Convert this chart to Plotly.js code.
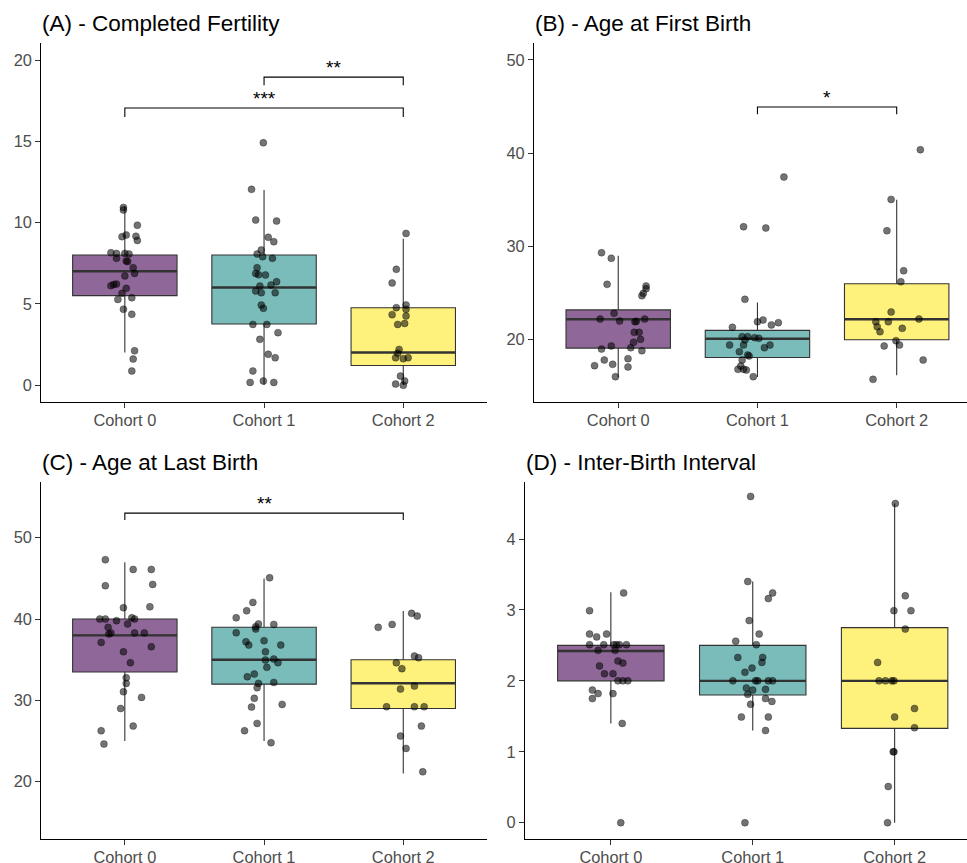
<!DOCTYPE html>
<html>
<head>
<meta charset="utf-8">
<script src="https://cdn.plot.ly/plotly-3.0.1.min.js"></script>
<style>html,body{margin:0;padding:0;background:#fff;}#chart{width:967px;height:863px;}</style>
</head>
<body>
<div id="chart"></div>
<script>
// ---------- DATA ----------
const cohorts = ['Cohort 0', 'Cohort 1', 'Cohort 2'];
const titles = ['(A) - Completed Fertility', '(B) - Age at First Birth', '(C) - Age at Last Birth', '(D) - Inter-Birth Interval'];

// Panel A - Completed Fertility
const fertQ1 = [5.5, 3.75, 1.2];
const fertMed = [7, 6, 2];
const fertQ3 = [8, 8, 4.75];
const fertLo = [2, 0, 0];
const fertHi = [11, 12, 9];
const fertY0 = [10.93, 10.77, 9.83, 9.13, 9.23, 9.15, 8.9, 8.14, 8.1, 8.1, 8.06, 7.8, 7.63, 7.6, 7.22, 6.87, 6.71, 6.11, 6.19, 6.21, 5.95, 5.64, 5.27, 5.37, 4.66, 4.35, 2.11, 1.6, 0.86];
const fertJ0 = [-0.01, -0.01, 0.09, -0.02, 0.01, 0.08, 0.09, -0.10, -0.06, 0.0, 0.03, -0.06, 0.01, 0.02, 0.06, 0.07, 0.0, -0.10, -0.08, -0.06, 0.01, -0.02, -0.05, 0.05, -0.01, 0.05, 0.07, 0.06, 0.05];
const fertY1 = [14.91, 12.04, 10.15, 10.09, 9.09, 8.82, 8.31, 8.06, 7.9, 7.8, 7.22, 6.87, 6.79, 6.77, 6.36, 6.15, 6.09, 5.78, 5.68, 5.68, 4.92, 4.72, 3.73, 3.73, 3.22, 2.81, 1.89, 1.68, 0.86, 0.16, 0.25, 0.16];
const fertJ1 = [-0.005, -0.09, -0.06, 0.09, 0.03, 0.07, -0.02, -0.05, -0.01, 0.06, -0.05, -0.06, -0.04, 0.01, 0.09, 0.05, -0.03, -0.06, -0.02, 0.08, -0.02, -0.005, -0.08, 0.02, 0.10, -0.03, 0.03, 0.08, -0.08, -0.10, -0.005, 0.07];
const fertY2 = [9.33, 7.12, 6.28, 4.92, 4.76, 4.66, 4.33, 4.25, 3.73, 3.79, 2.19, 1.95, 1.68, 1.62, 1.68, 0.55, 0.25, 0.06, -0.02];
const fertJ2 = [0.02, -0.05, -0.08, 0.02, -0.05, 0.02, -0.08, 0.02, -0.04, 0.01, -0.03, -0.04, -0.055, 0.0, 0.035, -0.02, 0.01, -0.055, 0.0];
const fertSig = [{from: 1, to: 2, y: 18.95, tip: 0.5, label: '**'}, {from: 0, to: 2, y: 17.05, tip: 0.55, label: '***'}];

// Panel B - Age at First Birth
const afbQ1 = [19.1, 18.1, 20];
const afbMed = [22.2, 20.1, 22.2];
const afbQ3 = [23.2, 21, 26];
const afbLo = [16, 16, 16.2];
const afbHi = [29, 24, 35];
const afbY0 = [29.33, 28.73, 25.94, 25.76, 25.47, 24.97, 24.72, 22.83, 22.22, 22.0, 21.93, 21.97, 22.22, 20.79, 20.79, 20.04, 19.72, 19.33, 19.0, 19.14, 18.82, 17.82, 17.97, 17.22, 17.36, 17.07, 16.03];
const afbJ0 = [-0.12, -0.05, -0.08, 0.20, 0.20, 0.18, 0.17, -0.03, -0.13, 0.01, 0.12, 0.13, 0.19, 0.115, 0.15, 0.16, 0.11, -0.05, -0.12, 0.09, 0.17, -0.10, 0.07, -0.17, -0.04, 0.07, -0.02];
const afbY1 = [37.45, 32.12, 31.98, 24.33, 22.11, 21.93, 21.83, 21.58, 21.33, 20.33, 20.33, 20.22, 20.15, 19.97, 19.43, 19.43, 19.43, 19.14, 18.72, 18.36, 18.25, 17.82, 17.18, 16.82, 16.82, 16.75, 16.04];
const afbJ1 = [0.19, -0.10, 0.06, -0.09, 0.04, 0.0, 0.15, 0.10, -0.18, -0.11, -0.07, -0.02, 0.01, -0.09, -0.20, -0.10, 0.09, 0.05, -0.13, -0.07, -0.06, -0.11, -0.12, -0.14, -0.10, -0.08, -0.03];
const afbY2 = [40.38, 35.05, 31.69, 27.4, 26.22, 22.97, 22.22, 21.93, 21.93, 21.4, 21.22, 20.86, 19.9, 19.33, 19.43, 17.82, 15.75];
const afbJ2 = [0.17, -0.04, -0.07, 0.05, 0.03, -0.04, 0.16, -0.15, -0.06, -0.14, 0.04, -0.12, -0.005, -0.09, 0.02, 0.19, -0.17];
const afbSig = [{from: 1, to: 2, y: 44.96, tip: 0.78, label: '*'}];

// Panel C - Age at Last Birth
const albQ1 = [33.5, 32, 29];
const albMed = [38, 35, 32.1];
const albQ3 = [40, 39, 35];
const albLo = [25, 25, 21];
const albHi = [47, 45, 41];
const albY0 = [47.3, 46.1, 46.1, 44.1, 44.26, 41.5, 41.4, 40.0, 40.0, 39.8, 40.16, 40.0, 38.98, 39.4, 38.3, 38.16, 38.3, 38.3, 37.13, 36.6, 35.98, 34.63, 32.79, 32.09, 31.07, 30.37, 29.0, 26.84, 26.27, 24.63];
const albJ0 = [-0.14, 0.06, 0.19, -0.14, 0.20, 0.18, -0.01, -0.18, -0.14, -0.06, 0.05, 0.07, -0.12, 0.02, -0.10, -0.115, 0.07, 0.14, -0.17, 0.19, -0.01, 0.04, 0.01, 0.01, -0.01, 0.12, -0.03, 0.06, -0.17, -0.15];
const albY1 = [45.08, 42.05, 41.02, 40.16, 39.39, 39.34, 39.06, 38.77, 38.32, 37.21, 37.34, 36.8, 36.8, 35.98, 34.96, 35.08, 34.63, 34.06, 33.24, 32.91, 32.21, 32.09, 31.56, 30.25, 29.51, 29.18, 27.17, 26.27, 24.8];
const albJ1 = [0.04, -0.08, -0.125, -0.20, -0.04, 0.07, -0.06, -0.06, -0.20, -0.13, 0.0, -0.11, 0.12, 0.01, 0.01, 0.07, 0.10, 0.02, -0.07, -0.12, 0.07, -0.04, -0.05, -0.07, 0.13, -0.09, -0.05, -0.14, 0.05];
const albY2 = [40.7, 40.37, 39.34, 38.98, 35.45, 35.25, 34.63, 33.9, 31.76, 31.39, 29.22, 29.22, 29.22, 26.84, 25.61, 24.1, 21.23];
const albJ2 = [0.06, 0.10, -0.08, -0.18, 0.08, 0.11, -0.05, -0.01, 0.08, -0.02, -0.12, 0.08, 0.15, 0.13, -0.02, 0.02, 0.14];
const albSig = [{from: 0, to: 2, y: 53.03, tip: 0.86, label: '**'}];

// Panel D - Inter-Birth Interval
const ibiQ1 = [2, 1.8, 1.33];
const ibiMed = [2.42, 2.0, 2.0];
const ibiQ3 = [2.5, 2.5, 2.75];
const ibiLo = [1.4, 1.3, 0];
const ibiHi = [3.25, 3.4, 4.5];
const ibiY0 = [3.24, 2.99, 2.66, 2.62, 2.66, 2.51, 2.51, 2.51, 2.51, 2.51, 2.51, 2.43, 2.43, 2.28, 2.25, 2.21, 2.1, 2.1, 2.0, 2.0, 2.0, 1.87, 1.82, 1.75, 1.82, 1.4, 0];
const ibiJ0 = [0.09, -0.15, -0.15, -0.10, -0.03, -0.15, -0.05, 0.02, 0.04, 0.06, 0.11, -0.09, 0.03, 0.05, 0.085, -0.08, -0.045, 0.015, 0.05, 0.085, 0.12, -0.13, -0.09, -0.13, 0.015, 0.08, 0.07];
const ibiY1 = [4.6, 3.4, 3.24, 3.16, 2.85, 2.66, 2.56, 2.51, 2.33, 2.33, 2.26, 2.18, 2.12, 2.0, 2.0, 2.0, 2.0, 2.0, 1.9, 1.88, 1.87, 1.81, 1.75, 1.71, 1.67, 1.49, 1.49, 1.3, 0];
const ibiJ1 = [-0.015, -0.035, 0.14, 0.11, -0.025, 0.045, -0.12, 0.025, -0.105, 0.07, 0.065, -0.005, -0.055, -0.14, 0.02, 0.035, 0.11, 0.14, -0.045, 0.09, 0.0, -0.035, 0.09, 0.135, -0.015, -0.08, 0.11, 0.09, -0.055];
const ibiY2 = [4.5, 3.2, 2.99, 2.99, 2.73, 2.26, 2.0, 2.0, 2.0, 2.0, 1.61, 1.49, 1.34, 1.0, 1.0, 0.51, 0];
const ibiJ2 = [0.005, 0.075, -0.005, 0.115, 0.075, -0.12, -0.11, -0.065, -0.02, -0.005, 0.14, 0.0, 0.14, -0.005, -0.01, -0.045, -0.05];
const ibiSig = [];

// ---------- STYLE ----------
const fills = ['rgba(68,1,84,0.6)', 'rgba(33,144,140,0.6)', 'rgba(253,231,37,0.6)'];
const FONT = 'Liberation Sans, Arial, sans-serif';

const panels = [
  {q1: fertQ1, med: fertMed, q3: fertQ3, lo: fertLo, hi: fertHi, ys: [fertY0, fertY1, fertY2], js: [fertJ0, fertJ1, fertJ2], sig: fertSig,
   xdom: [41.3, 486.8], ydom: [43.3, 402], xr: [-0.6, 2.6], yr: [-1.046, 21.03], tv: [0, 5, 10, 15, 20]},
  {q1: afbQ1, med: afbMed, q3: afbQ3, lo: afbLo, hi: afbHi, ys: [afbY0, afbY1, afbY2], js: [afbJ0, afbJ1, afbJ2], sig: afbSig,
   xdom: [534, 967], ydom: [43.3, 402], xr: [-0.605, 2.505], yr: [13.32, 51.79], tv: [20, 30, 40, 50]},
  {q1: albQ1, med: albMed, q3: albQ3, lo: albLo, hi: albHi, ys: [albY0, albY1, albY2], js: [albJ0, albJ1, albJ2], sig: albSig,
   xdom: [41.3, 486.8], ydom: [481.7, 839.3], xr: [-0.6, 2.6], yr: [12.92, 56.89], tv: [20, 30, 40, 50]},
  {q1: ibiQ1, med: ibiMed, q3: ibiQ3, lo: ibiLo, hi: ibiHi, ys: [ibiY0, ibiY1, ibiY2], js: [ibiJ0, ibiJ1, ibiJ2], sig: ibiSig,
   xdom: [525, 967], ydom: [481.7, 839.3], xr: [-0.605, 2.51], yr: [-0.234, 4.808], tv: [0, 1, 2, 3, 4]}
];

const W = 967, H = 863;
const traces = [];
const annotations = [];
const layout = {
  width: W, height: H,
  margin: {l: 0, r: 0, t: 0, b: 0},
  paper_bgcolor: '#ffffff', plot_bgcolor: 'rgba(0,0,0,0)',
  showlegend: false,
  font: {family: FONT, color: '#4D4D4D'},
  annotations: annotations
};

panels.forEach((p, k) => {
  const n = k === 0 ? '' : String(k + 1);
  const xa = 'x' + n, ya = 'y' + n;
  const axStyle = {
    showgrid: false, zeroline: false, showline: true, linecolor: '#000', linewidth: 1.1,
    ticks: 'outside', ticklen: 5, tickwidth: 1, tickcolor: '#333',
    tickfont: {family: FONT, size: 16.4, color: '#4D4D4D'}, fixedrange: true
  };
  layout['xaxis' + n] = Object.assign({}, axStyle, {
    domain: [p.xdom[0] / W, p.xdom[1] / W], range: p.xr, anchor: ya,
    tickmode: 'array', tickvals: [0, 1, 2], ticktext: cohorts, ticklabelstandoff: -2
  });
  layout['yaxis' + n] = Object.assign({}, axStyle, {
    domain: [1 - p.ydom[1] / H, 1 - p.ydom[0] / H], range: p.yr, anchor: xa,
    tickmode: 'array', tickvals: p.tv, ticktext: p.tv.map(String)
  });

  // boxes
  for (let i = 0; i < 3; i++) {
    traces.push({
      type: 'box', x: [i], q1: [p.q1[i]], median: [p.med[i]], q3: [p.q3[i]],
      lowerfence: [p.lo[i]], upperfence: [p.hi[i]], width: 0.75,
      fillcolor: fills[i], line: {color: '#333333', width: 1.1}, whiskerwidth: 0,
      boxpoints: false, xaxis: xa, yaxis: ya, hoverinfo: 'skip'
    });
  }
  // thicker median lines
  for (let i = 0; i < 3; i++) {
    traces.push({
      type: 'scatter', mode: 'lines', x: [i - 0.375, i + 0.375], y: [p.med[i], p.med[i]],
      line: {color: '#333333', width: 2.4}, xaxis: xa, yaxis: ya, hoverinfo: 'skip'
    });
  }
  // jittered points
  for (let i = 0; i < 3; i++) {
    traces.push({
      type: 'scatter', mode: 'markers',
      x: p.js[i].map(j => i + j), y: p.ys[i],
      marker: {size: 7, color: 'rgba(0,0,0,0.55)', line: {width: 1, color: 'rgba(0,0,0,0.3)'}},
      xaxis: xa, yaxis: ya, hoverinfo: 'skip'
    });
  }
  // significance brackets
  p.sig.forEach(s => {
    traces.push({
      type: 'scatter', mode: 'lines',
      x: [s.from, s.from, s.to, s.to], y: [s.y - s.tip, s.y, s.y, s.y - s.tip],
      line: {color: '#000', width: 1.1}, xaxis: xa, yaxis: ya, hoverinfo: 'skip'
    });
    annotations.push({
      xref: xa, yref: ya, x: (s.from + s.to) / 2, y: s.y, text: s.label,
      showarrow: false, xanchor: 'center', yanchor: 'bottom', yshift: -3,
      font: {family: FONT, size: 19, color: '#000'}
    });
  });
  // panel title
  annotations.push({
    xref: xa + ' domain', yref: 'paper', x: 0, y: 1 - (p.ydom[0] - 19.5) / H,
    xanchor: 'left', yanchor: 'middle', xshift: -1, showarrow: false, text: titles[k],
    font: {family: FONT, size: 22.5, color: '#000'}
  });
});

Plotly.newPlot('chart', traces, layout, {staticPlot: true, displayModeBar: false});
</script>
</body>
</html>
